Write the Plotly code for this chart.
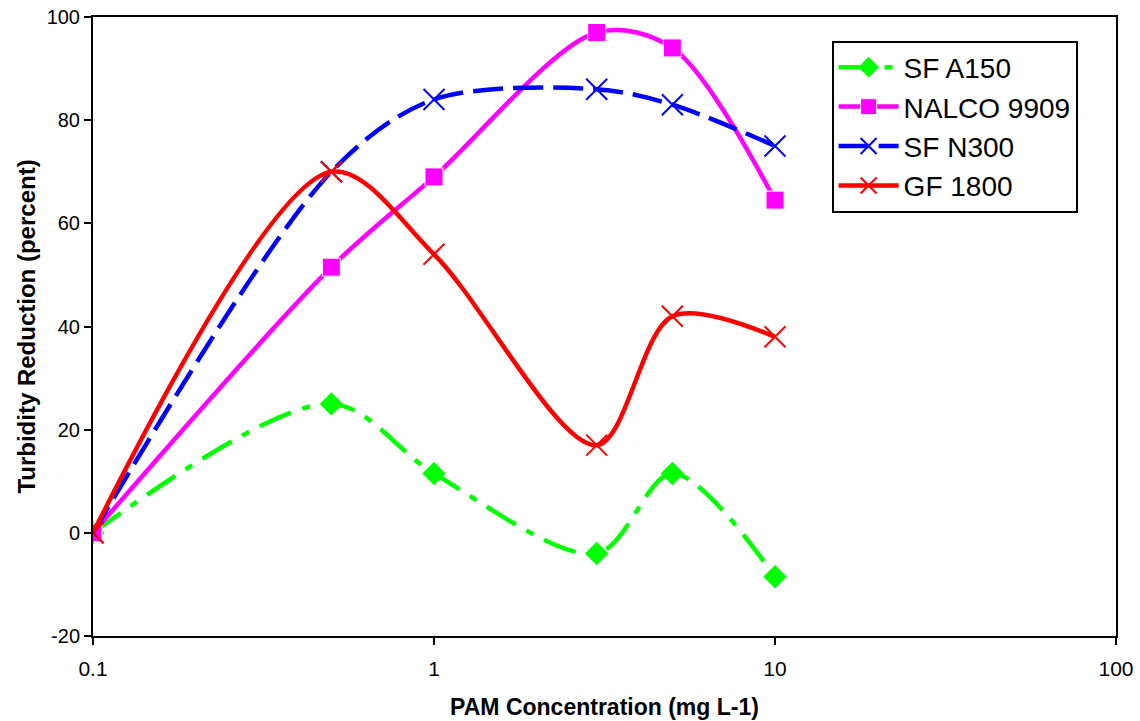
import plotly.graph_objects as go

conc = [0.1, 0.5, 1, 3, 5, 10]
sf_a150 = [0, 25, 11.5, -4, 11.5, -8.5]
nalco_9909 = [0, 51.5, 69, 97, 94, 64.5]
sf_n300 = [0, 70, 84, 86, 83, 75]
gf_1800 = [0, 70, 54, 17, 42, 38]

x_ticks = [0.1, 1, 10, 100]
x_tick_text = ["0.1", "1", "10", "100"]
y_ticks = [-20, 0, 20, 40, 60, 80, 100]
y_tick_text = ["-20", "0", "20", "40", "60", "80", "100"]

series = [
    ("SF A150", sf_a150, "#00ff00", "34px,12px,8px,12px", dict(symbol="diamond", size=18, color="#00ff00")),
    ("NALCO 9909", nalco_9909, "#ff00ff", "solid", dict(symbol="square", size=18, color="#ff00ff",
                                                          line=dict(color="white", width=1))),
    ("SF N300", sf_n300, "#0000ff", "30px,10px", dict(symbol="x-thin", size=21, color="#0000ff",
                                                        line=dict(color="#0000ff", width=2))),
    ("GF 1800", gf_1800, "#ff0000", "solid", dict(symbol="x-thin", size=21, color="#ff0000",
                                                    line=dict(color="#ff0000", width=2))),
]

fig = go.Figure()
for name, vals, color, dash, marker in series:
    fig.add_trace(go.Scatter(
        x=conc, y=vals, name=name, mode="lines+markers",
        line=dict(color=color, width=4.5, dash=dash, shape="spline", smoothing=0.9),
        marker=marker,
    ))

fig.update_layout(
    width=1140, height=721,
    margin=dict(l=93, r=24, t=17, b=85),
    paper_bgcolor="white", plot_bgcolor="white",
    font=dict(family="Arial, Liberation Sans, sans-serif", color="black"),
    showlegend=True,
    legend=dict(x=0.722, y=0.962, xanchor="left", yanchor="top",
                bordercolor="black", borderwidth=2, bgcolor="white",
                font=dict(size=28), itemwidth=60),
    xaxis=dict(type="log", range=[-1, 2], tickvals=x_ticks, ticktext=x_tick_text,
               showline=True, linecolor="black", linewidth=2, mirror=True,
               ticks="outside", ticklen=7, tickwidth=2, tickcolor="black",
               showgrid=False, zeroline=False, tickfont=dict(size=21),
               ticklabelstandoff=6, automargin=False,
               title=dict(text="<b>PAM Concentration (mg L-1)</b>", font=dict(size=23), standoff=20)),
    yaxis=dict(range=[-20, 100], tickvals=y_ticks, ticktext=y_tick_text,
               showline=True, linecolor="black", linewidth=2, mirror=True,
               ticks="outside", ticklen=7, tickwidth=2, tickcolor="black",
               showgrid=False, zeroline=False, tickfont=dict(size=20),
               automargin=False,
               title=dict(text="<b>Turbidity Reduction (percent)</b>", font=dict(size=24), standoff=4)),
)

fig.write_html("out.html", config={"displayModeBar": False},
               post_script="document.body.style.margin='0px';")
